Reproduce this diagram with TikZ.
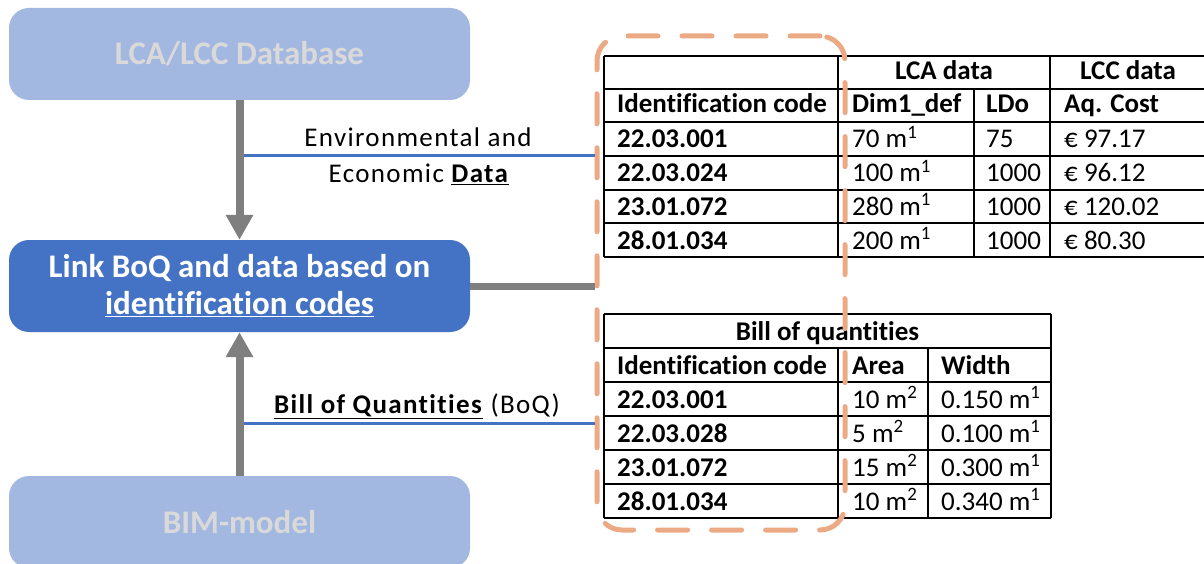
\documentclass[tikz,border=0pt]{standalone}
\usepackage{fontspec}
\setmainfont{Carlito}[Ligatures={NoCommon}]
\newfontfamily\spacedfont{Carlito}[Ligatures={NoCommon},LetterSpace=5]
\usetikzlibrary{arrows.meta}
\definecolor{lightbox}{HTML}{A3B8E1}
\definecolor{darkbox}{HTML}{4472C4}
\definecolor{boxtext}{HTML}{D9D9D9}
\definecolor{arrowgray}{HTML}{7F7F7F}
\definecolor{linkblue}{HTML}{4472C4}
\definecolor{dashorange}{HTML}{EBAA84}
\tikzset{
  flowbox/.style={rounded corners=20pt, minimum width=461pt, minimum height=92pt, inner sep=0pt, align=center,
    font=\fontsize{33}{37}\selectfont\bfseries},
  fadedbox/.style={flowbox, fill=lightbox, text=boxtext},
  mainbox/.style={flowbox, fill=darkbox, text=white},
  bigarrow/.style={line width=8pt, draw=arrowgray, -{Triangle[width=26pt,length=25pt]}},
  feedline/.style={line width=3pt, draw=linkblue},
  joinline/.style={line width=7pt, draw=arrowgray},
  grid/.style={line width=2.5pt, draw=black},
  lbl/.style={anchor=base, inner sep=0pt, font=\spacedfont\fontsize{27}{32}\selectfont},
  cell/.style={anchor=base west, inner sep=0pt, font=\fontsize{27}{32}\selectfont},
  cellb/.style={cell, font=\fontsize{27}{32}\selectfont\bfseries},
  cellc/.style={anchor=base, inner sep=0pt, font=\fontsize{27}{32}\selectfont\bfseries},
  groupbox/.style={draw=dashorange, line width=5pt, rounded corners=25pt, dash pattern=on 30pt off 24pt, line cap=round,
    minimum width=248pt, minimum height=494pt, inner sep=0pt}
}
\begin{document}
\begin{tikzpicture}[x=1pt,y=-1pt]
\useasboundingbox (0,0) rectangle (1204,564);

% flow boxes
\node[fadedbox] (db) at (239.5,54) {LCA/LCC Database};
\node[mainbox] (link) at (239.5,286) {Link BoQ and data based on\\\underline{identification codes}};
\node[fadedbox] (bim) at (239.5,522) {BIM-model};

% top table
\draw[grid] (604,56) -- (1206,56);
\foreach \yy in {89,122,156,190,223,257} \draw[grid] (604,\yy) -- (1206,\yy);
\draw[grid] (604,56) -- (604,257);
\draw[grid] (838,56) -- (838,257);
\draw[grid] (974,89) -- (974,257);
\draw[grid] (1050,56) -- (1050,257);
\node[cellc] (lcah) at (944,80) {LCA data};
\node[cellc] (lcch) at (1128,80) {LCC data};
\node[cellb] (ta1) at (617,113) {Identification code};
\node[cellb] (ta2) at (852,113) {Dim1\_def};
\node[cellb] (ta3) at (986,113) {LDo};
\node[cellb] (ta4) at (1064,113) {Aq. Cost};
\foreach \yy/\a/\b/\c/\d [count=\i] in {
  148/22.03.001/70 m\textsuperscript{1}/75/€ 97.17,
  182/22.03.024/100 m\textsuperscript{1}/1000/€ 96.12,
  215/23.01.072/280 m\textsuperscript{1}/1000/€ 120.02,
  249/28.01.034/200 m\textsuperscript{1}/1000/€ 80.30}{
  \node[cellb] (tr\i c1) at (617,\yy) {\a};
  \node[cell] (tr\i c2) at (852,\yy) {\b};
  \node[cell] (tr\i c3) at (986,\yy) {\c};
  \node[cell] (tr\i c4) at (1064,\yy) {\d};
}

% bottom table
\foreach \yy in {314,348,382,416,450,484,518} \draw[grid] (604,\yy) -- (1051,\yy);
\draw[grid] (604,314) -- (604,518);
\draw[grid] (1051,314) -- (1051,518);
\draw[grid] (838,348) -- (838,518);
\draw[grid] (928,348) -- (928,518);
\node[cellc] (boqh) at (827.5,340) {Bill of quantities};
\node[cellb] (tb1) at (617,374) {Identification code};
\node[cellb] (tb2) at (852,374) {Area};
\node[cellb] (tb3) at (941,374) {Width};
\foreach \yy/\a/\b/\c [count=\i] in {
  408/22.03.001/10 m\textsuperscript{2}/0.150 m\textsuperscript{1},
  442/22.03.028/5 m\textsuperscript{2}/0.100 m\textsuperscript{1},
  476/23.01.072/15 m\textsuperscript{2}/0.300 m\textsuperscript{1},
  510/28.01.034/10 m\textsuperscript{2}/0.340 m\textsuperscript{1}}{
  \node[cellb] (br\i c1) at (617,\yy) {\a};
  \node[cell] (br\i c2) at (852,\yy) {\b};
  \node[cell] (br\i c3) at (941,\yy) {\c};
}

% dashed group
\node[groupbox] (grp) at (721,283) {};

% arrows and connectors
\draw[bigarrow] (db.south) -- (link.north);
\draw[bigarrow] (bim.north) -- (link.south);
\coordinate (e1) at (244,156);
\coordinate (b1) at (244,423);
\draw[feedline] (e1) -- (e1 -| grp.west);
\draw[feedline] (b1) -- (b1 -| grp.west);
\draw[joinline] (link.east) -- (link.east -| grp.west);

% labels
\node[lbl] (env1) at (418,147) {Environmental and};
\node[lbl] (env2) at (419,183) {Economic \underline{\textbf{Data}}};
\node[lbl] (boql) at (417,413) {\underline{\textbf{Bill of Quantities}} (BoQ)};
\end{tikzpicture}
\end{document}
